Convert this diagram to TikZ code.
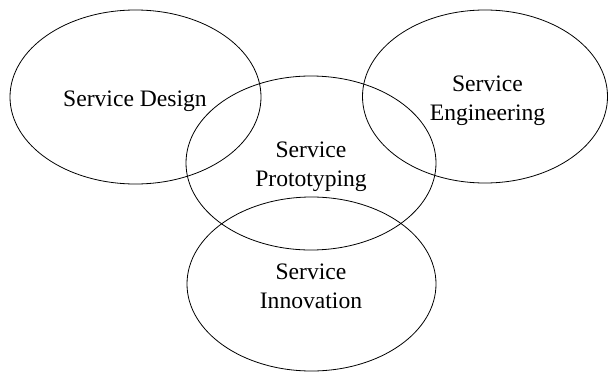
\documentclass[tikz,border=0pt]{standalone}
\usepackage{fontspec}
\setmainfont{Liberation Serif}
\usetikzlibrary{shapes.geometric}
\begin{document}
\begin{tikzpicture}[x=1pt,y=-1pt,
  circ/.style={ellipse,draw=black,line width=0.8pt,inner sep=0pt},
  lbl/.style={align=center,font=\fontsize{23.6}{29}\selectfont,inner sep=0pt,anchor=base}]
\useasboundingbox (0,0) rectangle (608,372);
\node[circ,minimum width=251pt,minimum height=174pt] (design) at (135.5,97) {};
\node[circ,minimum width=250pt,minimum height=174pt] (proto) at (311,163) {};
\node[circ,minimum width=245pt,minimum height=173pt] (eng) at (485,96.5) {};
\node[circ,minimum width=249pt,minimum height=174pt] (innov) at (311.5,284) {};
\node[lbl] (tdesign) at (135,106.7) {Service Design};
\node[lbl] (tproto) at (311,186.7) {Service\\Prototyping};
\node[lbl] (teng) at (487.5,120) {Service\\Engineering};
\node[lbl] (tinnov) at (311,308) {Service\\Innovation};
\end{tikzpicture}
\end{document}
